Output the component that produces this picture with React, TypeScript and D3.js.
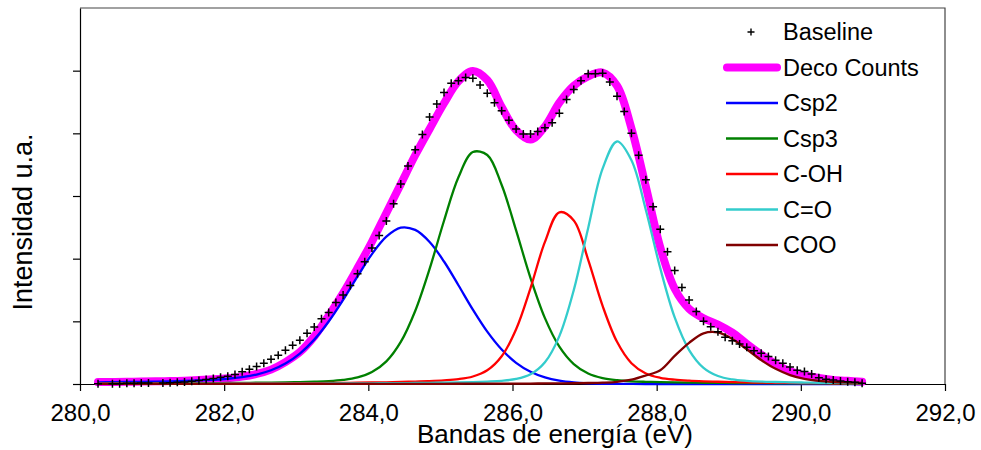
import * as d3 from "d3";
import { useEffect, useRef } from "react";

// energy grid of the fitted curves (eV)
const energy = [
  280.25, 280.45, 280.65, 280.85, 281.05, 281.25, 281.45, 281.65, 281.85, 282.05,
  282.25, 282.45, 282.65, 282.85, 283.05, 283.25, 283.45, 283.65, 283.85, 284.05,
  284.25, 284.45, 284.65, 284.85, 285.05, 285.25, 285.45, 285.65, 285.85, 286.05,
  286.25, 286.45, 286.65, 286.85, 287.05, 287.25, 287.45, 287.65, 287.85, 288.05,
  288.25, 288.45, 288.65, 288.85, 289.05, 289.25, 289.45, 289.65, 289.85, 290.05,
  290.25, 290.45, 290.65, 290.85,
];

const decoCounts = [
  30, 32, 35, 38, 42, 47, 53, 62, 75, 92,
  118, 160, 230, 350, 510, 760, 1090, 1450, 1850, 2270,
  2730, 3190, 3650, 4070, 4480, 4830, 4995, 4850, 4420, 4050,
  3900, 4110, 4490, 4760, 4910, 4970, 4760, 4080, 3150, 2180,
  1520, 1200, 1050, 950, 820, 640, 470, 320, 205, 140,
  95, 66, 50, 37,
];

const csp2 = [
  26, 29, 32, 35, 39, 43, 50, 57, 68, 84,
  110, 151, 219, 326, 485, 708, 997, 1342, 1716, 2073,
  2351, 2495, 2459, 2267, 1955, 1576, 1187, 835, 550, 338,
  195, 105, 53, 25, 11, 4, 2, 1, 0, 0,
  0, 0, 0, 0, 0, 0, 0, 0, 0, 0,
  0, 0, 0, 0,
];

const csp3 = [
  7, 8, 8, 9, 10, 11, 12, 13, 14, 16,
  18, 20, 23, 26, 31, 37, 46, 65, 104, 190,
  361, 671, 1165, 1837, 2605, 3299, 3701, 3654, 3176, 2451,
  1691, 1051, 596, 318, 167, 94, 60, 43, 35, 30,
  26, 22, 20, 18, 16, 14, 13, 12, 11, 10,
  9, 8, 8, 7,
];

const cOH = [
  4, 4, 5, 5, 5, 6, 6, 7, 7, 8,
  9, 9, 10, 11, 13, 14, 16, 18, 21, 24,
  27, 32, 39, 47, 59, 78, 120, 219, 443, 874,
  1531, 2268, 2740, 2610, 1982, 1246, 673, 332, 168, 99,
  69, 53, 43, 36, 30, 26, 22, 19, 17, 15,
  13, 12, 11, 10,
];

const cO = [
  3, 3, 3, 3, 3, 3, 4, 4, 4, 5,
  5, 5, 6, 6, 7, 7, 8, 9, 10, 11,
  13, 14, 17, 19, 22, 26, 31, 39, 51, 80,
  155, 346, 764, 1498, 2490, 3436, 3870, 3570, 2777, 1846,
  1062, 542, 258, 127, 73, 50, 38, 32, 27, 23,
  20, 18, 16, 14,
];

const coo = [
  1, 1, 1, 1, 1, 1, 1, 1, 1, 1,
  1, 1, 1, 1, 2, 2, 2, 2, 2, 2,
  2, 3, 3, 3, 3, 4, 5, 5, 6, 7,
  7, 9, 10, 12, 16, 22, 35, 68, 136, 219,
  448, 657, 809, 823, 719, 554, 383, 242, 143, 82,
  49, 32, 24, 19,
];

// measured points (+)
const baselineE = [
  280.25, 280.45, 280.55, 280.65, 280.75, 280.85, 280.95,
  281.15, 281.25, 281.35, 281.45, 281.55, 281.65, 281.75, 281.85, 281.95,
  282.05, 282.15, 282.25, 282.35, 282.45, 282.55, 282.65, 282.75, 282.85, 282.95,
  283.05, 283.15, 283.25, 283.35, 283.45, 283.55, 283.65, 283.75, 283.85, 283.95,
  284.05, 284.15, 284.25, 284.35, 284.45, 284.55, 284.65, 284.75, 284.85, 284.95,
  285.05, 285.15, 285.25, 285.35, 285.45, 285.55, 285.65, 285.75, 285.85, 285.95,
  286.05, 286.15, 286.25, 286.35, 286.45, 286.55, 286.65, 286.75, 286.85, 286.95,
  287.05, 287.15, 287.25, 287.35, 287.45, 287.55, 287.65, 287.75, 287.85, 287.95,
  288.05, 288.15, 288.25, 288.35, 288.45, 288.55, 288.65, 288.75, 288.85, 288.95,
  289.05, 289.15, 289.25, 289.35, 289.45, 289.55, 289.65, 289.75, 289.85, 289.95,
  290.05, 290.15, 290.25, 290.35, 290.45, 290.55, 290.65, 290.75, 290.85,
];
const baselineV = [
  5, 5, 5, 11, 11, 16, 16,
  16, 21, 27, 32, 43, 55, 70, 88, 107,
  125, 150, 195, 235, 280, 330, 395, 460, 540, 620,
  700, 810, 910, 1040, 1140, 1300, 1420, 1570, 1760, 1950,
  2170, 2370, 2600, 2875, 3190, 3480, 3740, 3980, 4260, 4470,
  4650, 4800, 4840, 4890, 4880, 4770, 4640, 4490, 4360, 4210,
  4070, 3990, 3990, 4030, 4090, 4170, 4320, 4540, 4700, 4840,
  4950, 4950, 4960, 4820, 4590, 4350, 4000, 3650, 3260, 2830,
  2470, 2110, 1810, 1540, 1340, 1155, 1000, 915, 835, 745,
  690, 640, 585, 530, 490, 440, 380, 330, 270, 220,
  200, 160, 100, 75, 64, 48, 37, 27, 11,
];

const xTicks = [280, 282, 284, 286, 288, 290, 292];
const yTicks = [0, 1000, 2000, 3000, 4000, 5000];

const components = [
  { name: "Csp2", values: csp2, color: "#0000ff" },
  { name: "Csp3", values: csp3, color: "#008000" },
  { name: "C-OH", values: cOH, color: "#ff0000" },
  { name: "C=O", values: cO, color: "#33cccc" },
  { name: "COO", values: coo, color: "#800000" },
];

const App = () => {
  const ref = useRef<SVGSVGElement>(null);

  useEffect(() => {
    const svg = d3.select(ref.current);
    svg.selectAll("*").remove();

    const font = '"Liberation Sans", Arial, sans-serif';
    const x = d3.scaleLinear().domain([280, 292]).range([80, 945]);
    const y = d3.scaleLinear().domain([0, 6000]).range([384, 8]);
    const fmt = d3.formatLocale({ decimal: ",", thousands: ".", grouping: [3], currency: ["", ""] }).format(".1f");

    // top and right border
    svg.append("path")
      .attr("d", `M${x(280)},${y(6000)}H${x(292)}V${y(0)}`)
      .attr("fill", "none")
      .attr("stroke", "#444")
      .attr("stroke-width", 1.2);

    const gx = svg.append("g")
      .attr("transform", `translate(0,${y(0)})`)
      .call(d3.axisBottom(x).tickValues(xTicks).tickSize(7).tickSizeOuter(0).tickPadding(13).tickFormat((d) => fmt(d as number)));
    gx.attr("font-family", font).attr("font-size", 24);
    gx.selectAll("text").attr("fill", "#000");
    gx.selectAll("line,path").attr("stroke", "#000").attr("stroke-width", 1.2);

    const gy = svg.append("g")
      .attr("transform", `translate(${x(280)},0)`)
      .call(d3.axisLeft(y).tickValues(yTicks).tickSize(7).tickSizeOuter(0).tickFormat(() => ""));
    gy.selectAll("line,path").attr("stroke", "#000").attr("stroke-width", 1.2);

    // axis titles
    svg.append("text")
      .attr("x", 555)
      .attr("y", 443)
      .attr("text-anchor", "middle")
      .attr("font-family", font)
      .attr("font-size", 26)
      .text("Bandas de energía (eV)");
    svg.append("text")
      .attr("transform", "translate(32,222) rotate(-90)")
      .attr("text-anchor", "middle")
      .attr("font-family", font)
      .attr("font-size", 27)
      .text("Intensidad u.a.");

    const line = d3.line<number>()
      .x((_, i) => x(energy[i]))
      .y((d) => y(d))
      .curve(d3.curveCatmullRom);

    svg.append("path")
      .datum(decoCounts)
      .attr("d", line)
      .attr("fill", "none")
      .attr("stroke", "#ff00ff")
      .attr("stroke-width", 8)
      .attr("stroke-linecap", "round")
      .attr("stroke-linejoin", "round");

    components.forEach((c) => {
      svg.append("path")
        .datum(c.values)
        .attr("d", line)
        .attr("fill", "none")
        .attr("stroke", c.color)
        .attr("stroke-width", 2.3);
    });

    const cross = "M-4,0H4M0,-4V4";
    svg.append("g")
      .selectAll("path")
      .data(baselineV)
      .join("path")
      .attr("transform", (d, i) => `translate(${x(baselineE[i])},${y(d)})`)
      .attr("d", cross)
      .attr("stroke", "#000")
      .attr("stroke-width", 1.5);

    // legend
    const legend = svg.append("g").attr("font-family", font).attr("font-size", 23.5);
    const rowY = (i: number) => 32 + i * 35.5;
    const labels = ["Baseline", "Deco Counts", ...components.map((c) => c.name)];
    labels.forEach((label, i) => {
      legend.append("text").attr("x", 783).attr("y", rowY(i) + 8.3).text(label);
    });
    legend.append("path")
      .attr("transform", `translate(751,${rowY(0)})`)
      .attr("d", "M-3.5,0H3.5M0,-3.5V3.5")
      .attr("stroke", "#000")
      .attr("stroke-width", 1.4);
    legend.append("line")
      .attr("x1", 727).attr("x2", 777)
      .attr("y1", rowY(1)).attr("y2", rowY(1))
      .attr("stroke", "#ff00ff")
      .attr("stroke-width", 8)
      .attr("stroke-linecap", "round");
    components.forEach((c, i) => {
      legend.append("line")
        .attr("x1", 726).attr("x2", 778)
        .attr("y1", rowY(i + 2)).attr("y2", rowY(i + 2))
        .attr("stroke", c.color)
        .attr("stroke-width", 2.3);
    });
  }, []);

  return (
    <svg
      ref={ref}
      width={981}
      height={450}
      style={{ position: "absolute", left: 0, top: 0, background: "#fff" }}
    />
  );
};

export default App;
